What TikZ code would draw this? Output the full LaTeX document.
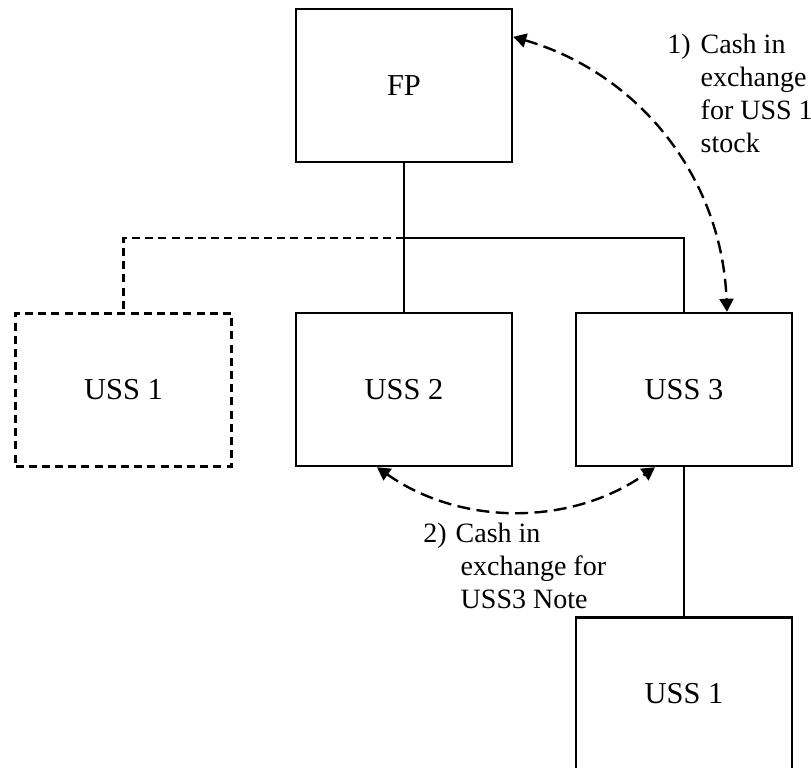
\documentclass[tikz,border=0pt]{standalone}
\usepackage{fontspec}
\setmainfont{Liberation Serif}
\usetikzlibrary{arrows.meta}
\begin{document}
\begin{tikzpicture}[x=0.5pt,y=-0.5pt,
  txt/.style={font=\fontsize{14pt}{16.6pt}\selectfont},
  box/.style={font=\fontsize{15.2pt}{18pt}\selectfont,draw,line width=1.2pt,minimum width=108pt,minimum height=76.5pt,inner sep=0pt},
  dbox/.style={box,dash pattern=on 4pt off 2.6pt},
  link/.style={line width=1.2pt},
  dlink/.style={link,dash pattern=on 4pt off 2.6pt},
  flow/.style={line width=1.2pt,dash pattern=on 6.5pt off 3.2pt,{Triangle[length=6.5pt,width=7pt]}-{Triangle[length=6.5pt,width=7pt]}},
  lbl/.style={txt,inner sep=0pt,anchor=base west}]
\useasboundingbox (0,0) rectangle (811,768);
\node[box] (FP) at (404,85.5) {FP};
\node[box] (USS2) at (404,389.5) {USS 2};
\node[box] (USS3) at (684,389.5) {USS 3};
\node[dbox] (USS1a) at (123.5,390) {USS 1};
\node[box] (USS1b) at (684,694) {USS 1};
\coordinate (j) at (404,238);
\draw[link] (FP) -- (USS2);
\draw[link] (j) -| (USS3.north);
\draw[dlink] (j) -| (USS1a.north);
\draw[link] (USS3) -- (USS1b);
\draw[flow] ([yshift=-14.5pt]FP.north east) .. controls +(127,37) and +(-5,-133) .. ([xshift=21.5pt]USS3.north);
\draw[flow] ([xshift=-13.5pt]USS2.south) .. controls +(84,59) and +(-84,59) .. ([xshift=-14.5pt]USS3.south);
\node[lbl] (l1) at (667,53) {\begin{tabular}[t]{@{}l@{\hspace{5pt}}l@{}}1) & Cash in\\ & exchange\\ & for USS 1\\ & stock\end{tabular}};
\node[lbl] (l2) at (423,542) {\begin{tabular}[t]{@{}l@{\hspace{4.5pt}}l@{}}2) & Cash in\\ & \hspace{2.5pt}exchange for\\ & \hspace{2.5pt}USS3 Note\end{tabular}};
\end{tikzpicture}
\end{document}
